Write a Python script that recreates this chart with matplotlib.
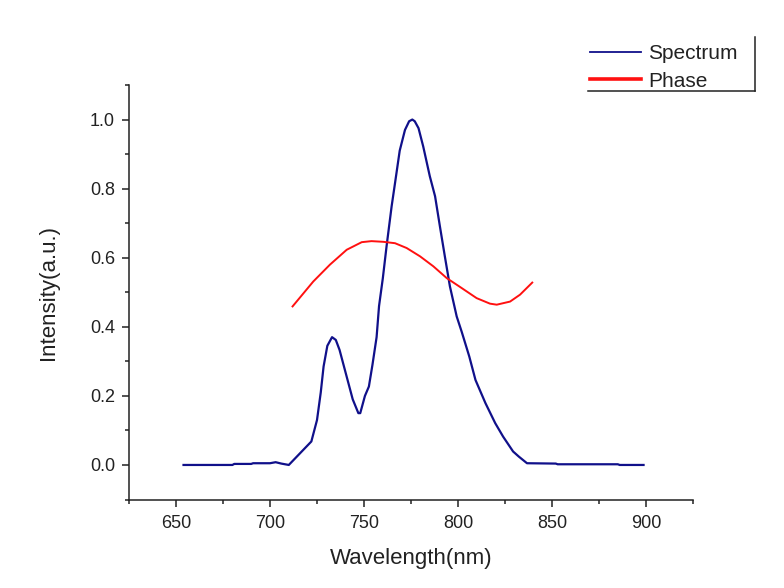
import numpy as np
import matplotlib
matplotlib.use("Agg")
import matplotlib.pyplot as plt
from matplotlib.lines import Line2D
from matplotlib.ticker import MultipleLocator

plt.rcParams["font.family"] = ["Liberation Sans", "DejaVu Sans"]

# Спектр (нм, отн. ед.)
spec_nm = [654, 680, 681, 690, 691, 700, 703, 706, 710, 716, 722, 725, 727,
           728.5, 730.5, 733, 735, 737, 741.7, 744, 747, 748, 750.5, 752.6,
           754.5, 756.7, 758, 760, 762, 764.7, 766.5, 769, 771.8, 774, 775.7,
           777, 779, 781.5, 785, 787.8, 790.4, 793, 795.7, 799.3, 802, 806,
           809.3, 814.6, 819.8, 824, 829.3, 832.4, 836.7, 852, 853, 885, 886,
           898.7]
spec_val = [0.0, 0.0, 0.003, 0.003, 0.005, 0.005, 0.008, 0.004, 0.0, 0.034,
            0.068, 0.13, 0.21, 0.285, 0.345, 0.37, 0.362, 0.333, 0.237, 0.19,
            0.15, 0.15, 0.2, 0.227, 0.29, 0.37, 0.46, 0.54, 0.633, 0.749,
            0.816, 0.91, 0.97, 0.995, 1.0, 0.995, 0.975, 0.922, 0.836, 0.778,
            0.69, 0.604, 0.517, 0.43, 0.385, 0.314, 0.246, 0.179, 0.121,
            0.082, 0.039, 0.024, 0.005, 0.004, 0.002, 0.002, 0.0, 0.0]

# Фаза
phase_nm = [712, 723, 731.9, 740.8, 748.8, 754, 760.3, 766.5, 772.7, 779.8,
            786.9, 794, 802, 809.9, 817, 820.6, 827.7, 833, 839.5]
phase_val = [0.459, 0.531, 0.58, 0.623, 0.645, 0.648, 0.646, 0.642, 0.628,
             0.604, 0.575, 0.541, 0.512, 0.483, 0.467, 0.464, 0.473, 0.493,
             0.528]

W, H = 784, 588
fig = plt.figure(figsize=(W / 100, H / 100), dpi=100)
fig.patch.set_facecolor("white")
ax = fig.add_axes([129 / W, 1 - 499.5 / H, (693 - 129) / W, (499.5 - 85) / H])

l1, = ax.plot(spec_nm, spec_val, color="#10108a", lw=1.6, label="Spectrum")
l2, = ax.plot(phase_nm, phase_val, color="#ff1010", lw=1.4, label="Phase")

ax.set_xlim(625, 925)
ax.set_ylim(-0.1, 1.1)
ax.xaxis.set_major_locator(MultipleLocator(50))
ax.xaxis.set_minor_locator(MultipleLocator(25))
ax.yaxis.set_major_locator(MultipleLocator(0.2))
ax.yaxis.set_minor_locator(MultipleLocator(0.1))
ax.xaxis.set_major_formatter(plt.FuncFormatter(lambda v, p: f"{v:.0f}"))
ax.yaxis.set_major_formatter(plt.FuncFormatter(lambda v, p: f"{v:.1f}"))

for s in ["top", "right"]:
    ax.spines[s].set_visible(False)
for s in ["left", "bottom"]:
    ax.spines[s].set_linewidth(1.1)
    ax.spines[s].set_color("#222222")

ax.tick_params(which="major", direction="out", length=5, width=1.1,
               labelsize=13, colors="#222222", pad=5)
ax.tick_params(which="minor", direction="out", length=2.8, width=1.1,
               colors="#222222")
ax.tick_params(axis="x", which="major", pad=6)

ax.set_xlabel("Wavelength(nm)", fontsize=16, color="#222222", labelpad=12)
ax.set_ylabel("Intensity(a.u.)", fontsize=16, color="#222222", labelpad=22)

# Легенда вне осей, рамка только справа и снизу
leg = ax.legend(handles=[l1, l2], loc="upper left",
                bbox_to_anchor=(590 / W, 1 - 44 / H),
                bbox_transform=fig.transFigure, frameon=False, fontsize=15,
                handlelength=2.45, handletextpad=0.35, labelspacing=0.42,
                borderpad=0.0, borderaxespad=0.0)
for t in leg.get_texts():
    t.set_color("#222222")
leg.get_lines()[0].set_linewidth(1.3)
leg.get_lines()[1].set_linewidth(2.6)

fig.add_artist(Line2D([755 / W, 755 / W], [1 - 37 / H, 1 - 91 / H],
                      transform=fig.transFigure, color="#222222", lw=1.1))
fig.add_artist(Line2D([588 / W, 755 / W], [1 - 91 / H, 1 - 91 / H],
                      transform=fig.transFigure, color="#222222", lw=1.1))

fig.savefig("out.png", dpi=100, facecolor="white")
